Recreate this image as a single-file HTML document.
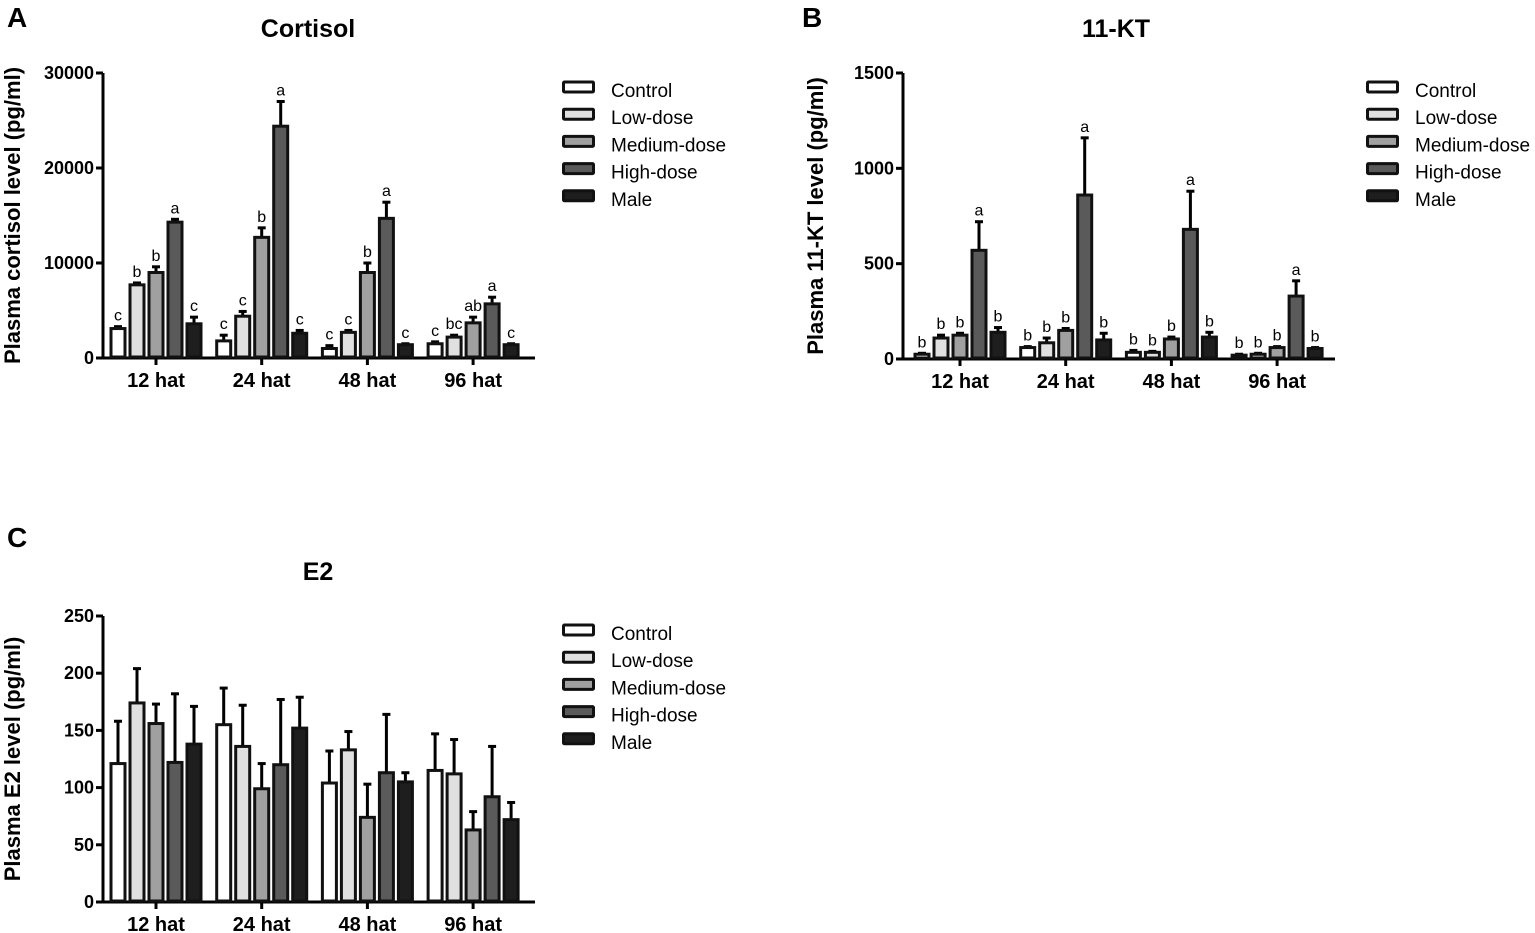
<!DOCTYPE html>
<html><head><meta charset="utf-8">
<style>
html,body{margin:0;padding:0;background:#fff;}
svg{display:block;font-family:"Liberation Sans",Arial,sans-serif;}
</style></head>
<body>
<svg id="fig" width="1535" height="933" viewBox="0 0 1535 933" xmlns="http://www.w3.org/2000/svg"></svg>
<script>
const categories = ["12 hat","24 hat","48 hat","96 hat"];
const seriesNames = ["Control","Low-dose","Medium-dose","High-dose","Male"];
const fills = ["#ffffff","#e0e0e0","#a0a0a0","#5a5a5a","#1e1e1e"];

const cortisolMeans = [[3100,7700,9000,14300,3600],[1800,4400,12700,24400,2600],[1000,2700,9000,14700,1400],[1500,2200,3700,5700,1400]];
const cortisolErr = [[3300,7900,9600,14600,4300],[2400,4900,13700,27000,2900],[1300,2900,10000,16400,1500],[1700,2400,4300,6400,1500]];
const cortisolLetters = [["c","b","b","a","c"],["c","c","b","a","c"],["c","c","b","a","c"],["c","bc","ab","a","c"]];
const cortisolTicks = [0,10000,20000,30000];

const ktMeans = [[25,110,125,570,140],[60,85,150,860,100],[35,35,105,680,115],[20,25,60,330,55]];
const ktErr = [[30,125,135,720,165],[65,110,160,1160,135],[45,40,115,880,140],[25,30,65,410,60]];
const ktLetters = [["b","b","b","a","b"],["b","b","b","a","b"],["b","b","b","a","b"],["b","b","b","a","b"]];
const ktTicks = [0,500,1000,1500];

const e2Means = [[121,174,156,122,138],[155,136,99,120,152],[104,133,74,113,105],[115,112,63,92,72]];
const e2Err = [[158,204,173,182,171],[187,172,121,177,179],[132,149,103,164,113],[147,142,79,136,87]];
const e2Ticks = [0,50,100,150,200,250];

const NS="http://www.w3.org/2000/svg";
const svg=document.getElementById('fig');
function el(tag,attrs,parent){const e=document.createElementNS(NS,tag);for(const k in attrs)e.setAttribute(k,attrs[k]);(parent||svg).appendChild(e);return e;}

function panel(o){
  const g=el('g',{});
  
  
  const ymax=o.ticks[o.ticks.length-1];
  const yS=v=>o.base-(v/ymax)*(o.base-o.top);
  const xS=(gi,si)=>o.c0+gi*o.gstep+(si-2)*19;
  let t=el('text',{x:o.lx,y:o.ly,'font-size':28,'font-weight':'bold'},g);t.textContent=o.letter;
  
  t=el('text',{x:o.tx,y:o.ty,'font-size':25,'font-weight':'bold','text-anchor':'middle'},g);t.textContent=o.title;
  
  t=el('text',{x:0,y:0,'font-size':22,'font-weight':'bold','text-anchor':'middle',transform:`translate(${o.ytx},${(o.top+o.base)/2}) rotate(-90)`},g);t.textContent=o.ylabel;
  
  let a=el('line',{x1:o.ax,y1:o.top,x2:o.ax,y2:o.base+1,stroke:'#000','stroke-width':3},g);
  
  a=el('line',{x1:o.ax-1,y1:o.base,x2:o.xend,y2:o.base,stroke:'#000','stroke-width':3},g);
  
  o.ticks.forEach(v=>{
    el('line',{x1:o.ax-7,y1:yS(v),x2:o.ax,y2:yS(v),stroke:'#000','stroke-width':3},g);
    const tl=el('text',{x:o.ax-9,y:yS(v)+6,'font-size':18,'font-weight':'bold','text-anchor':'end'},g);
    tl.textContent=v;
    
  });
  categories.forEach((c,gi)=>{
    const cx=o.c0+gi*o.gstep;
    el('line',{x1:cx,y1:o.base,x2:cx,y2:o.base+7,stroke:'#000','stroke-width':3},g);
    const xl=el('text',{x:cx,y:o.base+29,'font-size':20,'font-weight':'bold','text-anchor':'middle'},g);
    xl.textContent=c;
    
    o.means[gi].forEach((m,si)=>{
      const x=xS(gi,si);
      const eTop=yS(o.err[gi][si]);
      const ew=el('line',{x1:x,y1:eTop,x2:x,y2:yS(m),stroke:'#000','stroke-width':3},g);
      
      el('line',{x1:x-4,y1:eTop,x2:x+4,y2:eTop,stroke:'#000','stroke-width':3},g);
      const r=el('rect',{x:x-7,y:yS(m),width:14,height:Math.max(0,o.base-yS(m)-1),fill:fills[si],stroke:'#111','stroke-width':3},g);
      
      
      if(o.letters){
        const lt=el('text',{x:x,y:eTop-6,'font-size':16,'text-anchor':'middle'},g);
        lt.textContent=o.letters[gi][si];
        
      }
    });
  });
  seriesNames.forEach((n,si)=>{
    const y=o.legY+si*27.2;
    const lg=el('g',{},g);
    
    el('rect',{x:o.legX+1.5,y:y-8,width:30,height:10,fill:fills[si],stroke:'#111','stroke-width':3,rx:1},lg);
    const lt=el('text',{x:o.legX+49,y:y+7,'font-size':19},lg);lt.textContent=n;
  });
}

panel({id:'cortisol',letter:'A',lx:7,ly:27,title:'Cortisol',tx:308,ty:37,ylabel:'Plasma cortisol level (pg/ml)',ytx:20,
  ax:103,top:73,base:358,xend:535,c0:156,gstep:105.7,ticks:cortisolTicks,means:cortisolMeans,err:cortisolErr,letters:cortisolLetters,legX:562,legY:90});
panel({id:'11kt',letter:'B',lx:802,ly:27,title:'11-KT',tx:1116,ty:37,ylabel:'Plasma 11-KT level (pg/ml)',ytx:823,
  ax:903,top:73,base:359,xend:1335,c0:960,gstep:105.7,ticks:ktTicks,means:ktMeans,err:ktErr,letters:ktLetters,legX:1366,legY:90});
panel({id:'e2',letter:'C',lx:7,ly:547,title:'E2',tx:318,ty:580,ylabel:'Plasma E2 level (pg/ml)',ytx:20,
  ax:103,top:616,base:902,xend:535,c0:156,gstep:105.7,ticks:e2Ticks,means:e2Means,err:e2Err,letters:null,legX:562,legY:633});
</script>
</body></html>
